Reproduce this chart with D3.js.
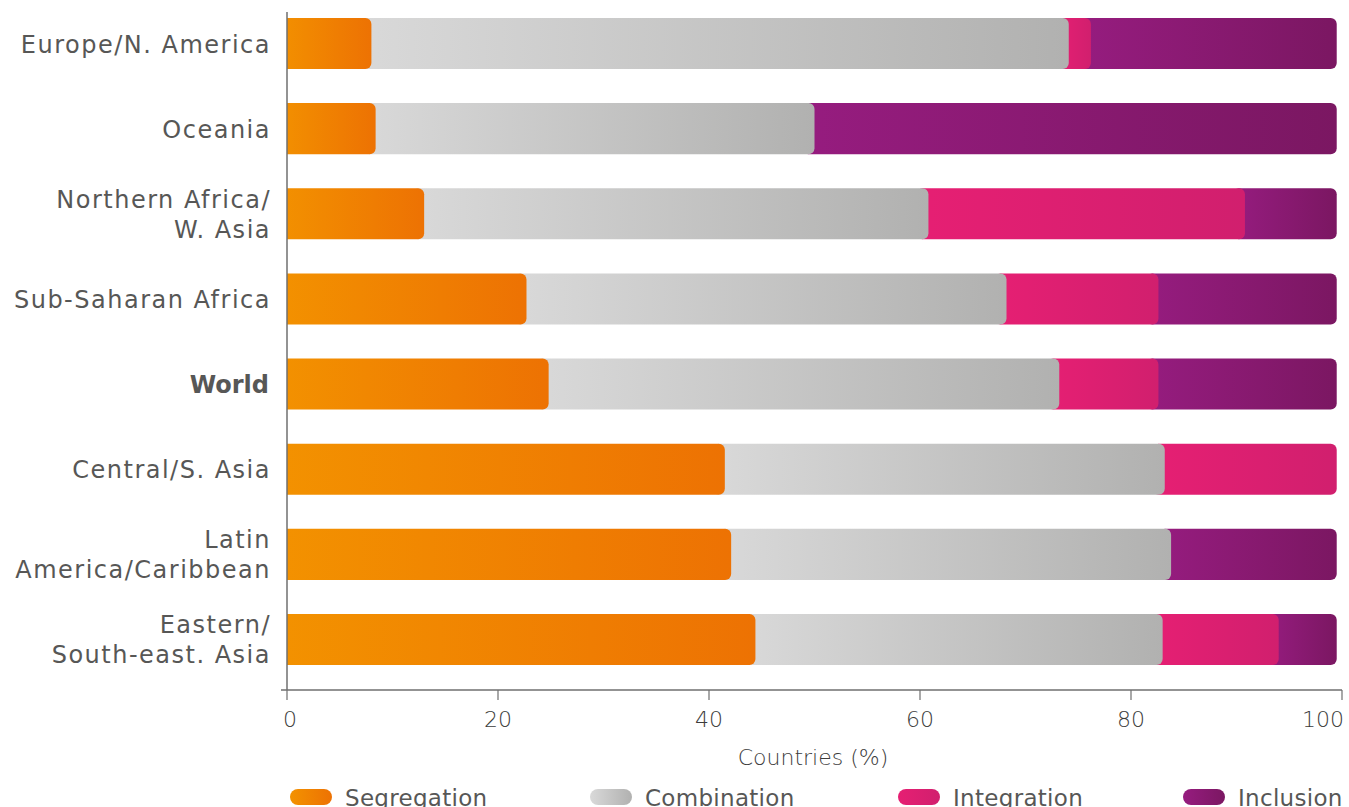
<!DOCTYPE html>
<html>
<head>
<meta charset="utf-8">
<script src="https://cdn.jsdelivr.net/npm/d3@7"></script>
<style>
  html, body { margin: 0; padding: 0; background: #fff; }
  svg { display: block; font-family: "DejaVu Sans", "Noto Sans", sans-serif; }
</style>
</head>
<body>
<div id="chart"></div>
<script>
const WIDTH = 1349;
const HEIGHT = 807;

const regions = [
    "Europe/N. America",
    "Oceania",
    "Northern Africa/\nW. Asia",
    "Sub-Saharan Africa",
    "World",
    "Central/S. Asia",
    "Latin\nAmerica/Caribbean",
    "Eastern/\nSouth-east. Asia"
];
const segregation = [8.0, 8.4, 13.0, 22.7, 24.8, 41.5, 42.1, 44.4];
const combination = [66.1, 41.6, 47.8, 45.5, 48.4, 41.7, 41.7, 38.6];
const integration = [2.1, 0, 30.0, 14.4, 9.4, 16.3, 0, 11.0];
const inclusion = [23.3, 49.5, 8.7, 16.9, 16.9, 0, 15.7, 5.5];
const seriesNames = ["Segregation", "Combination", "Integration", "Inclusion"];
const xTicks = [0, 20, 40, 60, 80, 100];

const seriesValues = [segregation, combination, integration, inclusion];
const gradientStops = [
    ["#f39200", "#ed7203"],
    ["#d9d9d9", "#b1b1b0"],
    ["#e61f73", "#d11f6e"],
    ["#961c7f", "#7b1762"]
];
const textColor = "#575756";
const lightTextColor = "#3c3c3b";
const axisColor = "#6f6f6f";

const svg = d3.select("#chart")
    .append("svg")
    .attr("width", WIDTH)
    .attr("height", HEIGHT);

const defs = svg.append("defs");
gradientStops.forEach((stops, i) => {
    const g = defs.append("linearGradient")
        .attr("id", `grad${i}`)
        .attr("x1", "0%").attr("x2", "100%")
        .attr("y1", "0%").attr("y2", "0%");
    g.append("stop").attr("offset", "0%").attr("stop-color", stops[0]);
    g.append("stop").attr("offset", "100%").attr("stop-color", stops[1]);
});

const x = d3.scaleLinear()
    .domain([0, 100])
    .range([287, 1342]);

const y = d3.scaleBand()
    .domain(regions)
    .range([12, 671])
    .paddingInner(0.4)
    .paddingOuter(0.07);

const xAxisY = 690;

defs.append("clipPath")
    .attr("id", "plot-clip")
    .append("rect")
    .attr("x", x(0))
    .attr("y", 0)
    .attr("width", WIDTH - x(0))
    .attr("height", HEIGHT);

// Stack segments; each one tucks under the rounded end of the previous one.
const rows = regions.map((r, i) => {
    let start = 0;
    const segs = seriesValues.map((vals, s) => {
        const seg = { series: s, x0: start, x1: start + vals[i] };
        start += vals[i];
        return seg;
    });
    return { region: r, segs: segs.filter(d => d.x1 > d.x0) };
});

const plot = svg.append("g").attr("clip-path", "url(#plot-clip)");

plot.selectAll("g.row")
    .data(rows)
    .join("g")
    .attr("class", "row")
    .each(function (row) {
        d3.select(this).selectAll("rect")
            .data(row.segs.slice().reverse())
            .join("rect")
            .attr("x", d => x(d.x0) - 12)
            .attr("y", y(row.region))
            .attr("width", d => x(d.x1) - x(d.x0) + 12)
            .attr("height", y.bandwidth())
            .attr("rx", 6)
            .attr("fill", d => `url(#grad${d.series})`);
    });

// Axes
svg.append("line")
    .attr("x1", x(0)).attr("x2", x(0))
    .attr("y1", 12).attr("y2", xAxisY)
    .attr("stroke", axisColor).attr("stroke-width", 1.5);

svg.append("line")
    .attr("x1", x(0) - 6).attr("x2", x(100))
    .attr("y1", xAxisY).attr("y2", xAxisY)
    .attr("stroke", axisColor).attr("stroke-width", 1.5);

svg.selectAll(".xtick")
    .data(xTicks)
    .join("line")
    .attr("class", "xtick")
    .attr("x1", d => x(d)).attr("x2", d => x(d))
    .attr("y1", xAxisY).attr("y2", xAxisY + 10)
    .attr("stroke", axisColor).attr("stroke-width", 1.2);

svg.selectAll(".xlabel")
    .data(xTicks)
    .join("text")
    .attr("class", "xlabel")
    .attr("x", d => d === 100 ? x(d) + 2 : x(d) + (d === 0 ? 3 : 0))
    .attr("y", xAxisY + 37)
    .attr("text-anchor", d => d === 100 ? "end" : "middle")
    .style("font-size", "22px")
    .style("font-weight", "200")
    .style("fill", lightTextColor)
    .text(d => d);

svg.append("text")
    .attr("x", 813)
    .attr("y", 765)
    .attr("text-anchor", "middle")
    .style("font-size", "22px")
    .style("font-weight", "200")
    .style("fill", lightTextColor)
    .text("Countries (%)");

// Region labels, right aligned against the axis
regions.forEach(r => {
    const lines = r.split("\n");
    const cy = y(r) + y.bandwidth() / 2;
    const bold = r === "World";
    const t = svg.append("text")
        .attr("text-anchor", "end")
        .style("font-size", "24px")
        .style("font-weight", bold ? "700" : "400")
        .style("letter-spacing", bold ? "0px" : "1.5px")
        .style("fill", textColor);
    lines.forEach((line, k) => {
        t.append("tspan")
            .attr("x", bold ? 269 : 271)
            .attr("y", cy + 9 + (k - (lines.length - 1) / 2) * 30)
            .text(line);
    });
});

// Legend
const legendX = [290, 590, 898, 1183];
const legend = svg.selectAll(".legend")
    .data(seriesNames)
    .join("g")
    .attr("class", "legend")
    .attr("transform", (d, i) => `translate(${legendX[i]}, 789)`);

legend.append("rect")
    .attr("width", 42)
    .attr("height", 16)
    .attr("rx", 8)
    .attr("fill", (d, i) => `url(#grad${i})`);

legend.append("text")
    .attr("x", 55)
    .attr("y", 17)
    .style("font-size", "23px")
    .style("letter-spacing", "0.3px")
    .style("fill", textColor)
    .text(d => d);
</script>
</body>
</html>
